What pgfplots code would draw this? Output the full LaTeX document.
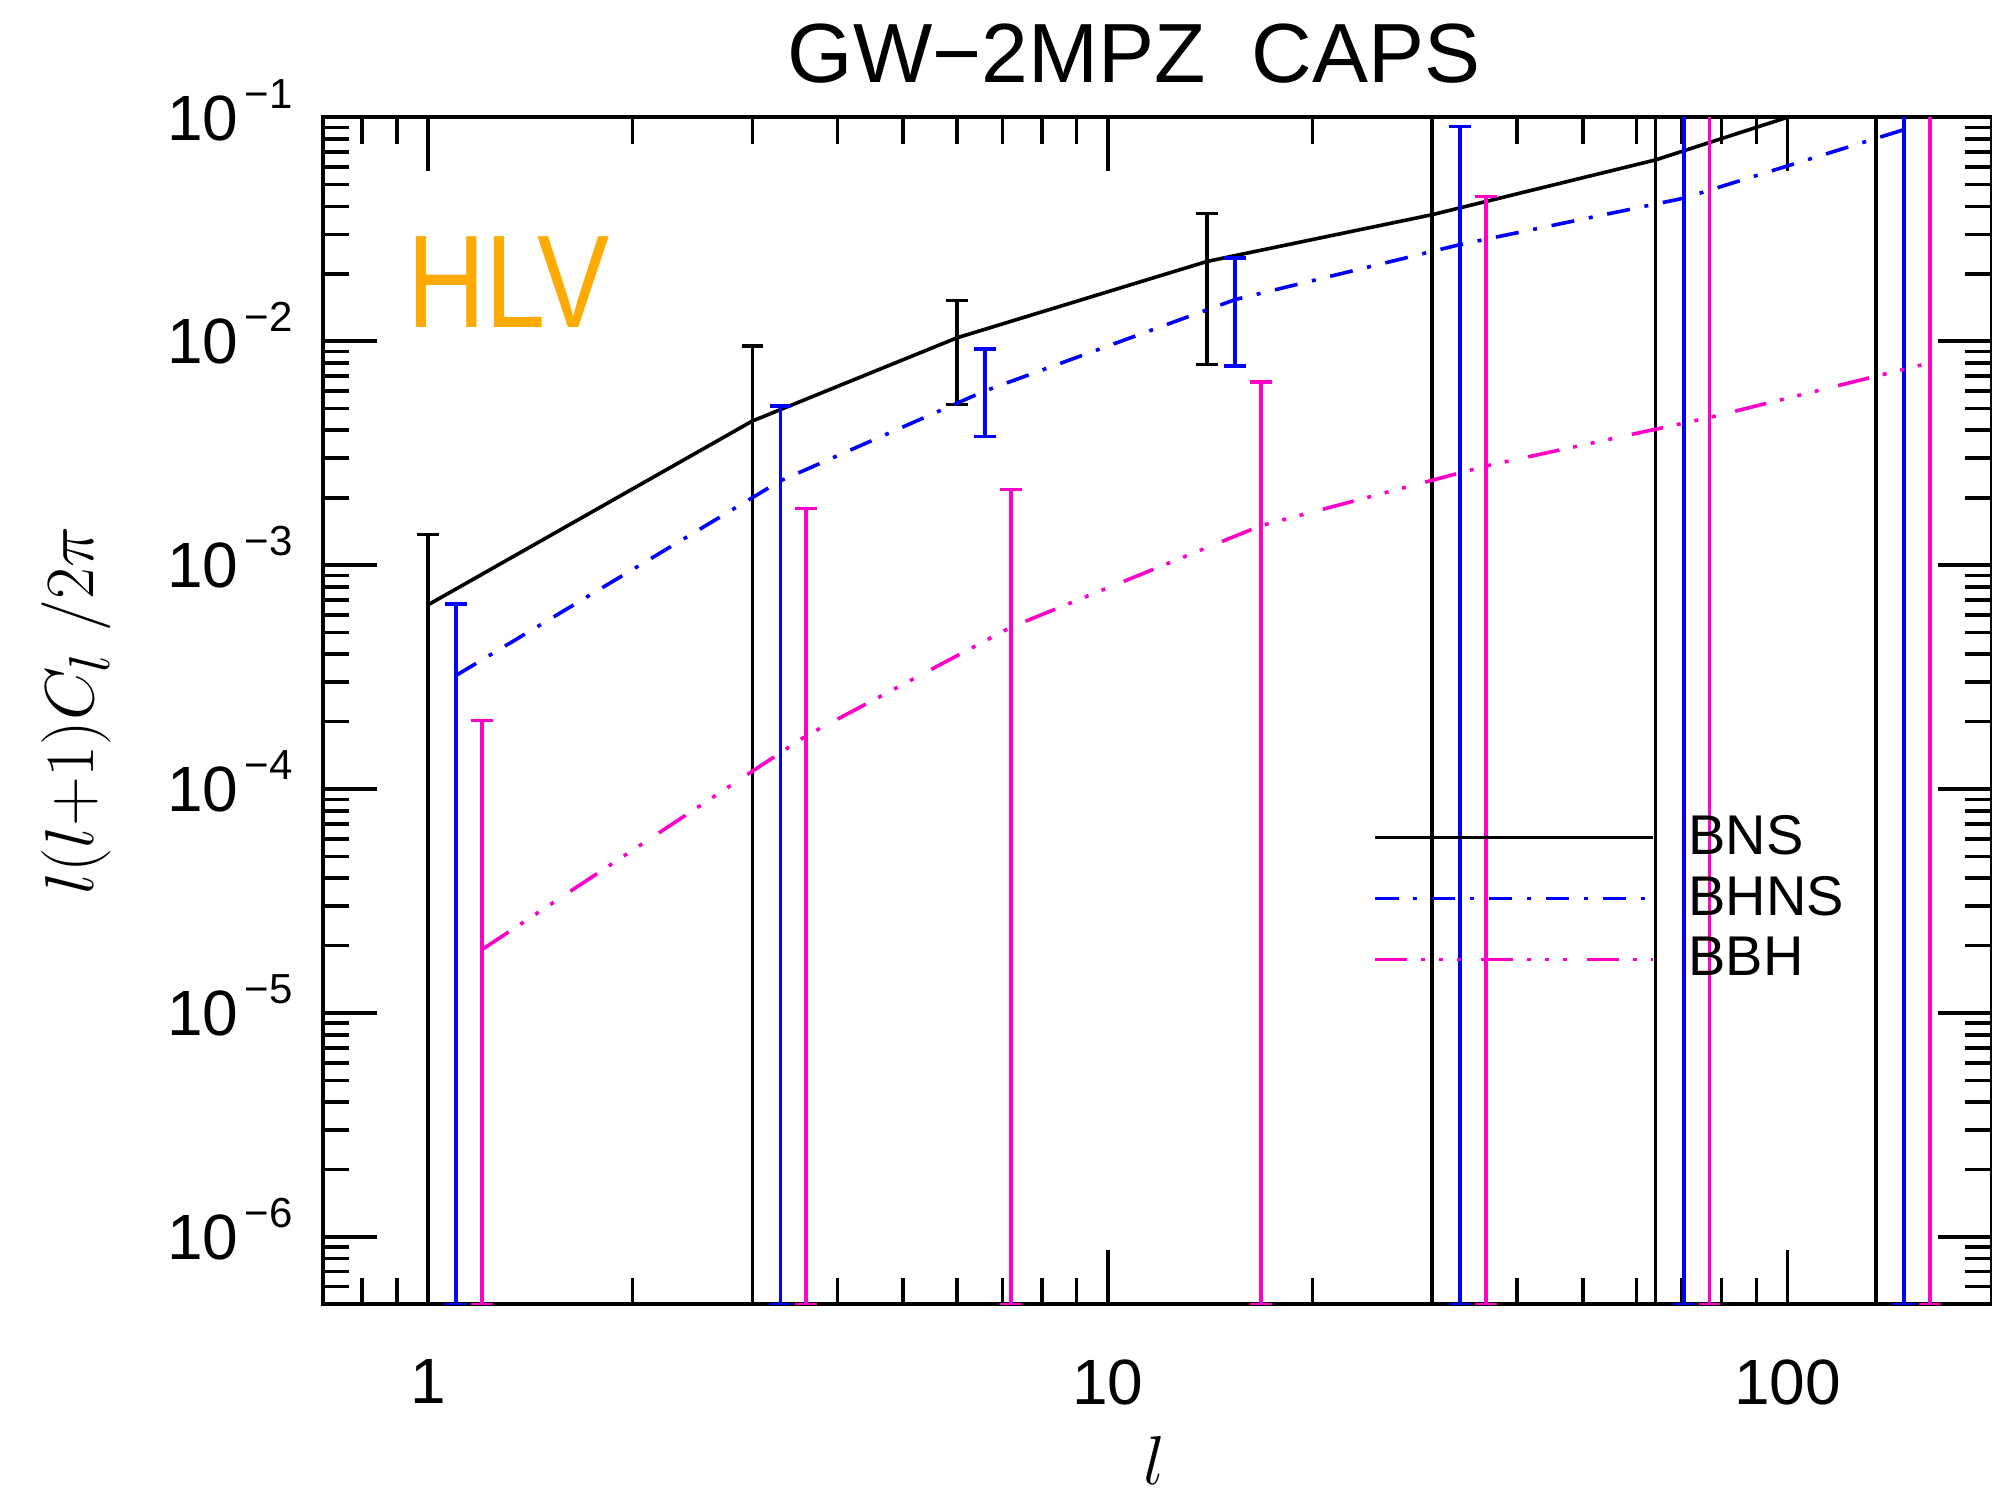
\documentclass[border=0pt]{standalone}
\usepackage{fontspec}
\setmainfont{Liberation Sans}
\usepackage{pgfplots}
\pgfplotsset{compat=1.18}
\usepackage{pgfplotstable}
\definecolor{bhns}{RGB}{0,0,255}
\definecolor{bbh}{RGB}{255,0,200}
\definecolor{hlv}{RGB}{255,170,0}
\newcommand{\ep}[1]{10\hspace{1.5pt}\raisebox{8pt}{\fontsize{10.5}{10.5}\selectfont −#1}}

% l, value, minus error, plus error
\pgfplotstableread{
l v em ep
1 6.65e-4 6.645e-4 7.05e-4
3 4.40e-3 4.3995e-3 5.1e-3
6 1.035e-2 5.13e-3 4.85e-3
14 2.27e-2 1.483e-2 1.44e-2
30 3.67e-2 3.66995e-2 0.9633
64 6.45e-2 6.44995e-2 0.9355
135 0.134 0.1339995 0.866
}\bns
\pgfplotstableread{
l v em ep
1.1 3.22e-4 3.215e-4 3.5e-4
3.3 2.38e-3 2.3795e-3 2.75e-3
6.6 6.0e-3 2.25e-3 3.25e-3
15.4 1.534e-2 7.59e-3 8.16e-3
33 2.7e-2 2.69995e-2 6.38e-2
70.4 4.35e-2 4.34995e-2 0.9565
148.5 8.8e-2 8.79995e-2 0.912
}\bhns
\pgfplotstableread{
l v em ep
1.2 1.92e-5 1.87e-5 1.828e-4
3.6 1.73e-4 1.725e-4 1.617e-3
7.2 5.28e-4 5.275e-4 1.652e-3
16.8 1.50e-3 1.4995e-3 5.07e-3
36 2.77e-3 2.7695e-3 4.153e-2
76.8 4.56e-3 4.5595e-3 0.99544
162 8.0e-3 7.9995e-3 0.992
}\bbh

\begin{document}
\begin{tikzpicture}
\useasboundingbox (-80.7pt,-47.9pt) rectangle (417.3pt,326.1pt);
\begin{axis}[
  at={(0pt,0pt)}, anchor=south west,
  scale only axis, width=417.3pt, height=296.8pt,
  xmode=log, ymode=log,
  xmin=0.7, xmax=200, ymin=5e-7, ymax=0.1,
  xtick={1,10,100}, xticklabels={1,10,100},
  minor xtick={0.8,0.9,2,3,4,5,6,7,8,9,20,30,40,50,60,70,80,90},
  ytick={1e-6,1e-5,1e-4,1e-3,1e-2,1e-1},
  yticklabels={\ep{6},\ep{5},\ep{4},\ep{3},\ep{2},\ep{1}},
  minor ytick={6e-7,7e-7,8e-7,9e-7,
    2e-6,3e-6,4e-6,5e-6,6e-6,7e-6,8e-6,9e-6,
    2e-5,3e-5,4e-5,5e-5,6e-5,7e-5,8e-5,9e-5,
    2e-4,3e-4,4e-4,5e-4,6e-4,7e-4,8e-4,9e-4,
    2e-3,3e-3,4e-3,5e-3,6e-3,7e-3,8e-3,9e-3,
    2e-2,3e-2,4e-2,5e-2,6e-2,7e-2,8e-2,9e-2},
  tick align=inside,
  major tick length=13.5pt, minor tick length=6.7pt,
  every tick/.style={black, line width=0.9pt},
  axis line style={line width=1pt},
  xticklabel style={font=\fontsize{16}{16}\selectfont, anchor=north, inner sep=0pt, yshift=-13.6pt},
  yticklabel style={font=\fontsize{16}{16}\selectfont, anchor=base east, inner sep=0pt, xshift=-7.4pt, yshift=-5.7pt},
  legend style={draw=none, fill=none, at={(axis description cs:0.629,0.413)}, anchor=north west,
    inner sep=0pt, column sep=8.5pt, row sep=4.0pt, font=\fontsize{14}{14}\selectfont,
    nodes={inner sep=0pt}},
  legend cell align=left,
  legend image code/.code={\draw[#1] (0pt,0pt) -- (69.3pt,0pt);},
  error bars/error bar style={solid, line width=0.9pt},
  error bars/error mark options={rotate=90, mark size=2.7pt, line width=0.9pt, solid},
]
\addplot[black, line width=0.9pt, solid,
  error bars/.cd, y dir=both, y explicit]
  table[x=l, y=v, y error plus=ep, y error minus=em] {\bns};
\addlegendentry{BNS}
\addplot[bhns, line width=0.9pt, dash pattern=on 5.8pt off 3.7pt on 1pt off 3.7pt,
  error bars/.cd, y dir=both, y explicit]
  table[x=l, y=v, y error plus=ep, y error minus=em] {\bhns};
\addlegendentry{BHNS}
\addplot[bbh, line width=0.9pt, dash pattern=on 8pt off 3.5pt on 1pt off 3.5pt on 1pt off 3.5pt on 1pt off 5pt,
  error bars/.cd, y dir=both, y explicit]
  table[x=l, y=v, y error plus=ep, y error minus=em] {\bbh};
\addlegendentry{BBH}
\end{axis}
\node[anchor=base] at (202.8pt,305.5pt) {\fontsize{21}{21}\selectfont GW−2MPZ\hspace{0.55em}CAPS};
\node[anchor=base west, text=hlv, inner sep=0pt] at (21pt,244.2pt) {\scalebox{0.82}[1]{\fontsize{33}{33}\selectfont HLV}};
\node[rotate=90] at (-61.7pt,148.4pt) {\fontsize{19}{19}\selectfont $l(l{+}1)C_l\ /2\pi$};
\node at (208pt,-39.1pt) {\fontsize{19}{19}\selectfont $l$};
\end{tikzpicture}
\end{document}
